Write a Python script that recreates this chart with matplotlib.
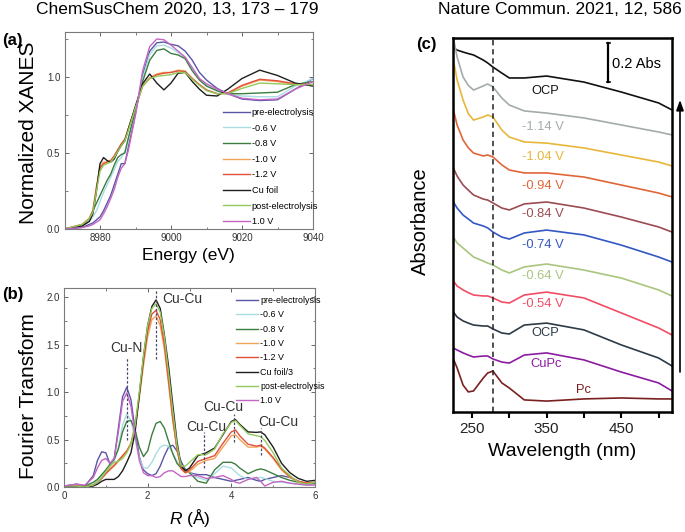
#%% Imports
import matplotlib
matplotlib.use("Agg")
import matplotlib.pyplot as plt
from matplotlib.ticker import MultipleLocator, FixedLocator

plt.rcParams["font.family"] = ["Liberation Sans", "DejaVu Sans"]
plt.rcParams["mathtext.fontset"] = "custom"
plt.rcParams["mathtext.it"] = "Liberation Sans:italic"
plt.rcParams["mathtext.rm"] = "Liberation Sans"

NARROW = ["Liberation Sans Narrow", "Liberation Sans", "DejaVu Sans"]

#%% Data: (a) XANES
energy = [8970, 8975, 8977, 8978, 8979, 8980, 8981, 8982, 8983, 8984, 8985, 8986, 8987,
          8988, 8990, 8992, 8994, 8996, 8998, 9000, 9002, 9004, 9006, 9008, 9010, 9013,
          9016, 9020, 9025, 9030, 9035, 9040]

xanes_pre = [0.0, 0.01, 0.03, 0.04, 0.06, 0.08, 0.12, 0.17, 0.22, 0.29, 0.36, 0.43, 0.43,
             0.54, 0.76, 1.01, 1.17, 1.225, 1.23, 1.215, 1.205, 1.17, 1.11, 1.03, 0.98,
             0.925, 0.89, 0.855, 0.845, 0.85, 0.92, 0.99]
xanes_m06 = [0.0, 0.02, 0.05, 0.08, 0.12, 0.18, 0.24, 0.29, 0.34, 0.39, 0.445, 0.47, 0.51,
             0.59, 0.77, 0.99, 1.15, 1.205, 1.21, 1.19, 1.16, 1.13, 1.06, 0.99, 0.945,
             0.905, 0.885, 0.875, 0.87, 0.87, 0.94, 0.99]
xanes_m08 = [0.0, 0.02, 0.07, 0.12, 0.17, 0.22, 0.27, 0.32, 0.36, 0.42, 0.47, 0.49, 0.50,
             0.60, 0.78, 0.97, 1.11, 1.175, 1.185, 1.155, 1.145, 1.12, 1.04, 0.98, 0.94,
             0.91, 0.89, 0.89, 0.895, 0.90, 0.95, 0.97]
xanes_m10 = [0.0, 0.03, 0.07, 0.12, 0.28, 0.41, 0.44, 0.44, 0.45, 0.48, 0.52, 0.56, 0.59,
             0.66, 0.80, 0.94, 0.995, 1.02, 1.03, 1.03, 1.045, 1.04, 0.99, 0.95, 0.915,
             0.89, 0.89, 0.94, 0.98, 0.97, 0.95, 0.95]
xanes_m12 = [0.0, 0.03, 0.07, 0.12, 0.27, 0.40, 0.43, 0.44, 0.45, 0.48, 0.52, 0.56, 0.59,
             0.66, 0.80, 0.94, 0.99, 1.015, 1.025, 1.03, 1.04, 1.035, 0.99, 0.95, 0.915,
             0.89, 0.895, 0.945, 0.985, 0.975, 0.955, 0.95]
xanes_foil = [0.0, 0.02, 0.05, 0.10, 0.25, 0.43, 0.47, 0.45, 0.44, 0.46, 0.51, 0.55, 0.58,
              0.66, 0.81, 0.955, 1.02, 0.96, 0.915, 0.96, 1.025, 1.03, 0.97, 0.92, 0.88,
              0.875, 0.92, 0.99, 1.045, 1.01, 0.96, 0.94]
xanes_post = [0.0, 0.03, 0.07, 0.11, 0.25, 0.38, 0.42, 0.43, 0.44, 0.47, 0.51, 0.55, 0.58,
              0.65, 0.80, 0.94, 0.99, 1.005, 1.01, 1.015, 1.03, 1.03, 0.985, 0.945, 0.91,
              0.89, 0.89, 0.925, 0.96, 0.955, 0.95, 0.95]
xanes_p10 = [0.0, 0.01, 0.02, 0.03, 0.045, 0.06, 0.10, 0.145, 0.20, 0.26, 0.34, 0.40, 0.43,
             0.52, 0.75, 1.04, 1.20, 1.25, 1.245, 1.21, 1.17, 1.13, 1.06, 0.99, 0.955,
             0.92, 0.89, 0.86, 0.85, 0.855, 0.92, 0.97]

#%% Data: (b) Fourier transform
r_grid = [0.0, 0.3, 0.5, 0.7, 0.8, 0.9, 1.0, 1.1, 1.2, 1.3, 1.4, 1.5, 1.6, 1.7, 1.8, 1.9,
          2.0, 2.1, 2.2, 2.3, 2.4, 2.5, 2.6, 2.7, 2.8, 2.9, 3.0, 3.2, 3.4, 3.6, 3.8, 4.0,
          4.1, 4.2, 4.4, 4.6, 4.7, 4.8, 5.0, 5.2, 5.4, 5.6, 5.8, 6.0]

ft_pre = [0.01, 0.03, 0.01, 0.12, 0.28, 0.37, 0.36, 0.24, 0.30, 0.62, 0.95, 1.05, 0.92,
          0.60, 0.32, 0.18, 0.14, 0.12, 0.14, 0.22, 0.33, 0.42, 0.44, 0.38, 0.27, 0.18,
          0.15, 0.13, 0.13, 0.10, 0.08, 0.06, 0.07, 0.08, 0.10, 0.07, 0.06, 0.08, 0.10,
          0.12, 0.10, 0.06, 0.04, 0.03]
ft_m06 = [0.0, 0.01, 0.01, 0.03, 0.07, 0.12, 0.17, 0.22, 0.27, 0.42, 0.65, 0.77, 0.70,
          0.50, 0.30, 0.20, 0.20, 0.26, 0.35, 0.42, 0.44, 0.43, 0.36, 0.27, 0.20, 0.17,
          0.15, 0.10, 0.07, 0.14, 0.22, 0.20, 0.16, 0.12, 0.08, 0.10, 0.10, 0.09, 0.06,
          0.05, 0.04, 0.03, 0.02, 0.03]
ft_m08 = [0.0, 0.01, 0.01, 0.05, 0.08, 0.13, 0.18, 0.24, 0.29, 0.40, 0.58, 0.69, 0.70,
          0.60, 0.42, 0.32, 0.38, 0.55, 0.67, 0.69, 0.62, 0.48, 0.35, 0.25, 0.20, 0.19,
          0.15, 0.06, 0.04, 0.18, 0.26, 0.26, 0.24, 0.20, 0.14, 0.18, 0.19, 0.18, 0.14,
          0.10, 0.07, 0.05, 0.03, 0.04]
ft_m10 = [0.01, 0.01, 0.0, 0.02, 0.05, 0.09, 0.14, 0.18, 0.22, 0.27, 0.32, 0.37, 0.45,
          0.62, 0.93, 1.28, 1.58, 1.76, 1.80, 1.70, 1.45, 1.08, 0.70, 0.40, 0.20, 0.15,
          0.16, 0.24, 0.28, 0.30, 0.42, 0.54, 0.55, 0.50, 0.42, 0.42, 0.43, 0.40, 0.30,
          0.18, 0.10, 0.06, 0.04, 0.05]
ft_m12 = [0.01, 0.01, 0.0, 0.02, 0.05, 0.09, 0.14, 0.19, 0.23, 0.28, 0.33, 0.38, 0.46,
          0.64, 0.97, 1.33, 1.64, 1.82, 1.86, 1.76, 1.50, 1.12, 0.72, 0.40, 0.19, 0.15,
          0.18, 0.27, 0.30, 0.33, 0.46, 0.58, 0.60, 0.54, 0.45, 0.43, 0.44, 0.41, 0.31,
          0.19, 0.11, 0.06, 0.04, 0.05]
ft_foil = [0.01, 0.0, 0.0, 0.01, 0.03, 0.06, 0.08, 0.08, 0.08, 0.11, 0.17, 0.26, 0.36,
           0.58, 0.97, 1.37, 1.70, 1.90, 1.97, 1.88, 1.60, 1.27, 0.87, 0.48, 0.22, 0.17,
           0.20, 0.33, 0.36, 0.41, 0.55, 0.69, 0.71, 0.66, 0.58, 0.575, 0.58, 0.55, 0.42,
           0.25, 0.15, 0.09, 0.06, 0.07]
ft_post = [0.01, 0.01, 0.0, 0.02, 0.05, 0.10, 0.16, 0.22, 0.26, 0.27, 0.30, 0.36, 0.45,
           0.65, 1.0, 1.38, 1.70, 1.88, 1.93, 1.84, 1.58, 1.2, 0.8, 0.44, 0.22, 0.22,
           0.26, 0.34, 0.34, 0.40, 0.56, 0.68, 0.70, 0.65, 0.56, 0.54, 0.53, 0.49, 0.36,
           0.20, 0.12, 0.05, 0.03, 0.05]
ft_p10 = [0.01, 0.03, 0.02, 0.10, 0.20, 0.28, 0.30, 0.25, 0.30, 0.58, 0.90, 0.99, 0.85,
          0.55, 0.28, 0.15, 0.12, 0.12, 0.10, 0.11, 0.15, 0.17, 0.17, 0.14, 0.11, 0.11,
          0.12, 0.12, 0.09, 0.10, 0.12, 0.08, 0.05, 0.04, 0.08, 0.10, 0.06, 0.01, 0.05,
          0.06, 0.04, 0.03, 0.02, 0.02]

xas_labels = ["pre-electrolysis", "-0.6 V", "-0.8 V", "-1.0 V", "-1.2 V", "Cu foil",
              "post-electrolysis", "1.0 V"]
xas_colors = ["#5b55a6", "#a9dde2", "#3d7d3f", "#f2a45a", "#e2503a", "#1e1e1e",
              "#93c95a", "#c465c4"]

# dashed markers in (b): position, y from, y to
ft_marks_r = [1.5, 2.2, 3.35, 4.07, 4.7]
ft_marks_lo = [0.49, 1.35, 0.20, 0.47, 0.34]
ft_marks_hi = [1.37, 2.08, 0.58, 0.77, 0.62]

#%% Data: (c) UV-vis
wavelength = [225, 230, 238, 245, 252, 265, 271, 278, 290, 300, 320, 350, 400, 450, 500, 518]

abs_ocp_end = [1.868, 1.856, 1.846, 1.838, 1.831, 1.805, 1.790, 1.769, 1.738, 1.713, 1.713,
               1.723, 1.692, 1.641, 1.585, 1.549]
abs_m114 = [1.918, 1.821, 1.718, 1.675, 1.651, 1.672, 1.682, 1.667, 1.610, 1.574, 1.544,
            1.533, 1.508, 1.472, 1.436, 1.421]
abs_m104 = [1.805, 1.703, 1.600, 1.530, 1.497, 1.513, 1.523, 1.513, 1.446, 1.410, 1.385,
            1.379, 1.354, 1.318, 1.282, 1.262]
abs_m094 = [1.549, 1.472, 1.395, 1.355, 1.328, 1.313, 1.318, 1.308, 1.267, 1.241, 1.226,
            1.226, 1.205, 1.164, 1.123, 1.103]
abs_m084 = [1.251, 1.210, 1.164, 1.138, 1.113, 1.092, 1.087, 1.072, 1.046, 1.036, 1.067,
            1.077, 1.046, 1.000, 0.949, 0.923]
abs_m074 = [1.077, 1.046, 1.010, 0.990, 0.969, 0.954, 0.944, 0.923, 0.897, 0.887, 0.918,
            0.933, 0.908, 0.856, 0.795, 0.769]
abs_m064 = [0.897, 0.867, 0.841, 0.818, 0.795, 0.774, 0.764, 0.754, 0.728, 0.713, 0.744,
            0.759, 0.728, 0.687, 0.626, 0.595]
abs_m054 = [0.672, 0.646, 0.626, 0.612, 0.600, 0.595, 0.595, 0.585, 0.564, 0.559, 0.600,
            0.615, 0.585, 0.508, 0.431, 0.395]
abs_ocp = [0.513, 0.487, 0.467, 0.456, 0.446, 0.441, 0.441, 0.426, 0.405, 0.400, 0.446,
           0.456, 0.421, 0.344, 0.277, 0.236]
abs_cupc = [0.328, 0.318, 0.303, 0.292, 0.282, 0.287, 0.287, 0.272, 0.256, 0.251, 0.292,
            0.303, 0.267, 0.205, 0.149, 0.108]
abs_pc = [0.272, 0.226, 0.138, 0.103, 0.108, 0.174, 0.200, 0.210, 0.149, 0.123, 0.062,
          0.056, 0.067, 0.072, 0.067, 0.067]

uv_labels = ["OCP", "-1.14 V", "-1.04 V", "-0.94 V", "-0.84 V", "-0.74 V", "-0.64 V",
             "-0.54 V", "OCP", "CuPc", "Pc"]
uv_colors = ["#111111", "#a3abab", "#e8b73a", "#e0663a", "#9c4b52", "#3358c4", "#a9c57e",
             "#f04d64", "#2d3a47", "#8b1ca1", "#7b2020"]
uv_label_x = [348, 345, 345, 345, 345, 345, 345, 345, 348, 349, 399]
uv_label_y = [1.646, 1.462, 1.308, 1.159, 1.015, 0.856, 0.697, 0.554, 0.405, 0.246, 0.113]


#%% Figure
fig = plt.figure(figsize=(6.85, 5.32), dpi=100)

fig.text(177 / 685, 1 - 10 / 532, "ChemSusChem 2020, 13, 173 \u2013 179", ha="center",
         va="center", fontsize=12.5)
fig.text(560 / 685, 1 - 10 / 532, "Nature Commun. 2021, 12, 586", ha="center",
         va="center", fontsize=12.5)


def style_xas(ax):
    for s in ax.spines.values():
        s.set_color("#7a7a7a")
        s.set_linewidth(0.8)
    ax.tick_params(which="both", direction="in", top=True, right=True, color="#666666",
                   labelsize=7, labelcolor="#333333", pad=3)
    ax.tick_params(which="major", length=3, width=0.7)
    ax.tick_params(which="minor", length=1.8, width=0.6)
    for lab in ax.get_xticklabels() + ax.get_yticklabels():
        lab.set_family(NARROW)


#%% (a) XANES
ax_a = fig.add_axes([64.5 / 685, 1 - 229 / 532, 248.5 / 685, 197 / 532])
xanes_series = [xanes_pre, xanes_m06, xanes_m08, xanes_m10, xanes_m12, xanes_foil,
                xanes_post, xanes_p10]
for vals, lab, col in zip(xanes_series, xas_labels, xas_colors):
    ax_a.plot(energy, vals, color=col, lw=1.0, label=lab)
ax_a.set_xlim(8970, 9040)
ax_a.set_ylim(0, 1.296)
ax_a.xaxis.set_major_locator(MultipleLocator(20))
ax_a.xaxis.set_minor_locator(MultipleLocator(10))
ax_a.yaxis.set_major_locator(FixedLocator([0.0, 0.5, 1.0]))
ax_a.yaxis.set_minor_locator(FixedLocator([0.25, 0.75, 1.25]))
ax_a.yaxis.set_major_formatter(lambda v, p: f"{v:.1f}")
style_xas(ax_a)
ax_a.set_xlabel("Energy (eV)", fontsize=12.5)
ax_a.set_ylabel("Normalized XANES", fontsize=15)
ax_a.xaxis.set_label_coords(0.5, -0.095)
ax_a.yaxis.set_label_coords(-0.107, 0.49)
ax_a.legend(loc="upper left", bbox_to_anchor=(223 / 685, 1 - 108 / 532),
            bbox_transform=fig.transFigure, frameon=False, borderpad=0, borderaxespad=0,
            labelspacing=0.72, handlelength=2.9, handletextpad=0.25,
            prop={"family": NARROW, "size": 6.6})
fig.text(2 / 685, 1 - 40 / 532, "(a)", fontsize=12, fontweight="bold", va="center")

#%% (b) Fourier transform
ax_b = fig.add_axes([64 / 685, 1 - 487 / 532, 251 / 685, 199 / 532])
ft_series = [ft_pre, ft_m06, ft_m08, ft_m10, ft_m12, ft_foil, ft_post, ft_p10]
ft_labels = [lab if lab != "Cu foil" else "Cu foil/3" for lab in xas_labels]
for vals, lab, col in zip(ft_series, ft_labels, xas_colors):
    ax_b.plot(r_grid, vals, color=col, lw=1.0, label=lab)
for r, lo, hi in zip(ft_marks_r, ft_marks_lo, ft_marks_hi):
    ax_b.plot([r, r], [lo, hi], color="#4a4a6a", lw=0.9, ls=(0, (2, 1.5)))
ax_b.text(1.5, 1.46, "Cu-N", ha="center", va="center", fontsize=10, color="#333333")
ax_b.text(2.36, 1.98, "Cu-Cu", ha="left", va="center", fontsize=10, color="#333333")
ax_b.text(3.40, 0.635, "Cu-Cu", ha="center", va="center", fontsize=10, color="#333333")
ax_b.text(3.81, 0.845, "Cu-Cu", ha="center", va="center", fontsize=10, color="#333333")
ax_b.text(5.13, 0.68, "Cu-Cu", ha="center", va="center", fontsize=10, color="#333333")
ax_b.set_xlim(0, 6)
ax_b.set_ylim(0, 2.095)
ax_b.xaxis.set_major_locator(MultipleLocator(2))
ax_b.xaxis.set_minor_locator(MultipleLocator(1))
ax_b.yaxis.set_major_locator(MultipleLocator(0.5))
ax_b.yaxis.set_minor_locator(MultipleLocator(0.25))
ax_b.yaxis.set_major_formatter(lambda v, p: f"{v:.1f}")
style_xas(ax_b)
ax_b.set_xlabel(r"$R$ (Å)", fontsize=12.5)
ax_b.set_ylabel("Fourier Transform", fontsize=15)
ax_b.xaxis.set_label_coords(0.5, -0.1)
ax_b.yaxis.set_label_coords(-0.104, 0.455)
ax_b.legend(loc="upper left", bbox_to_anchor=(236 / 685, 1 - 296 / 532),
            bbox_transform=fig.transFigure, frameon=False, borderpad=0, borderaxespad=0,
            labelspacing=0.6, handlelength=2.5, handletextpad=0.25,
            prop={"family": NARROW, "size": 6.4})
fig.text(2 / 685, 1 - 295 / 532, "(b)", fontsize=12, fontweight="bold", va="center")

#%% (c) UV-vis
ax_c = fig.add_axes([453 / 685, 1 - 412 / 532, 219 / 685, 374 / 532])
uv_series = [abs_ocp_end, abs_m114, abs_m104, abs_m094, abs_m084, abs_m074, abs_m064,
             abs_m054, abs_ocp, abs_cupc, abs_pc]
for vals, col in zip(uv_series, uv_colors):
    ax_c.plot(wavelength, vals, color=col, lw=1.2, clip_on=True)
for lab, col, lx, ly in zip(uv_labels, uv_colors, uv_label_x, uv_label_y):
    ax_c.text(lx, ly, lab, color=col, ha="center", va="center", fontsize=9.3)
ax_c.axvline(278, color="#222222", lw=1.1, ls=(0, (3.5, 2.5)))

# 0.2 Abs scale bar
ax_c.plot([432.5, 432.5], [1.692, 1.892], color="black", lw=1.6)
ax_c.plot([430.5, 434.5], [1.892, 1.892], color="black", lw=1.2)
ax_c.plot([430.5, 434.5], [1.692, 1.692], color="black", lw=1.2)
ax_c.text(437, 1.787, "0.2 Abs", ha="left", va="center", fontsize=10.5)

ax_c.set_xlim(224.5, 518)
ax_c.set_ylim(0, 1.918)
ax_c.xaxis.set_major_locator(FixedLocator([250, 350, 450]))
ax_c.xaxis.set_minor_locator(FixedLocator([300, 400, 500]))
ax_c.set_yticks([])
for s in ax_c.spines.values():
    s.set_linewidth(1.8)
    s.set_color("black")
ax_c.tick_params(which="both", direction="out", length=4, width=1.5, labelsize=11,
                 labelcolor="#222222", pad=3)
ax_c.set_xlabel("Wavelength (nm)", fontsize=14)
ax_c.set_ylabel("Absorbance", fontsize=14.5)
ax_c.xaxis.set_label_coords(0.5, -0.083)
ax_c.yaxis.set_label_coords(-0.105, 0.51)
fig.text(416 / 685, 1 - 45 / 532, "(c)", fontsize=12, fontweight="bold", va="center")

# arrow on the right of (c)
ax_c.annotate("", xy=(680, 532 - 100), xycoords="figure pixels",
              xytext=(680, 532 - 372), textcoords="figure pixels",
              arrowprops=dict(arrowstyle="-|>,head_length=0.6,head_width=0.22",
                              color="black", lw=1.2, shrinkA=0, shrinkB=0))

fig.savefig("out.png", dpi=100)
